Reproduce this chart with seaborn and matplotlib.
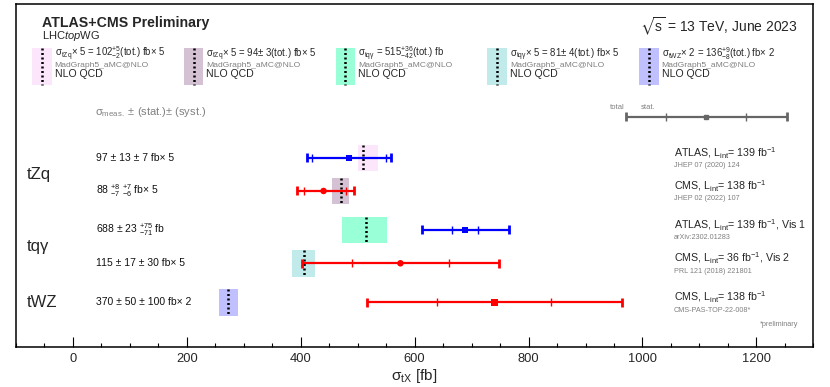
import matplotlib
matplotlib.use("Agg")
import matplotlib.pyplot as plt
from matplotlib.ticker import MultipleLocator
import numpy as np
import pandas as pd
import seaborn as sns

# measurements, top to bottom (values before scaling)
processes = ["tZq", "tZq", "tqγ", "tqγ", "tWZ"]
experiments = ["ATLAS", "CMS", "ATLAS", "CMS", "CMS"]
meas = [97, 88, 688, 115, 370]
stat_up = [13, 8, 23, 17, 50]
stat_dn = [13, 7, 23, 17, 50]
syst_up = [7, 7, 75, 30, 100]
syst_dn = [7, 6, 71, 30, 100]
scale = [5, 5, 1, 5, 2]

# NLO QCD predictions (MadGraph5_aMC@NLO)
theo = [102, 94, 515, 81, 136]
theo_up = [5, 3, 36, 4, 9]
theo_dn = [2, 3, 42, 4, 8]
theo_colors = ["#fbe6fb", "#d4c2d4", "#99ffd6", "#c1eaea", "#c0c0ff"]

lumi = ["139", "138", "139", "36", "138"]
extra = ["", "", ", Vis 1", ", Vis 2", ""]
refs = ["JHEP 07 (2020) 124", "JHEP 02 (2022) 107", "arXiv:2302.01283",
        "PRL 121 (2018) 221801", "CMS-PAS-TOP-22-008*"]

# layout (y in pixels from top, matching the axes)
row_y = [158, 191, 230, 263.3, 302.3]
markers = ["s", "o", "s", "o", "s"]
exp_colors = {"ATLAS": "#0000ff", "CMS": "#ff0000"}


def px(p):
    # pixel column -> data x
    return (p - 73.3) / 0.5685


df = pd.DataFrame({
    "process": processes, "experiment": experiments, "meas": meas,
    "stat_up": stat_up, "stat_dn": stat_dn, "syst_up": syst_up,
    "syst_dn": syst_dn, "scale": scale, "theo": theo, "theo_up": theo_up,
    "theo_dn": theo_dn, "y": row_y, "marker": markers,
})
df["x"] = df["meas"] * df["scale"]
df["tot_up"] = np.hypot(df["stat_up"], df["syst_up"]) * df["scale"]
df["tot_dn"] = np.hypot(df["stat_dn"], df["syst_dn"]) * df["scale"]

sns.set_theme(style="ticks")
plt.rcParams["font.family"] = ["Liberation Sans", "DejaVu Sans"]
plt.rcParams["mathtext.fontset"] = "custom"
plt.rcParams["mathtext.rm"] = "Liberation Sans"
plt.rcParams["mathtext.it"] = "Liberation Sans:italic"
plt.rcParams["mathtext.bf"] = "Liberation Sans:bold"
plt.rcParams["mathtext.sf"] = "Liberation Sans"
plt.rcParams["mathtext.fallback"] = "stixsans"

fig = plt.figure(figsize=(8.3, 3.87), dpi=100)
ax = fig.add_axes([0.0193, 0.1034, 0.9606, 0.8863])
ax.set_xlim(-100, 1300)
ax.set_ylim(347, 4)

gray = "#808080"
dots = (0, (0.8, 1.0))

# theory bands
for i, r in df.iterrows():
    lo = (r["theo"] - r["theo_dn"]) * r["scale"]
    hi = (r["theo"] + r["theo_up"]) * r["scale"]
    ax.barh(r["y"], hi - lo, left=lo, height=26.5, color=theo_colors[i],
            linewidth=0, zorder=1)
    ax.vlines(r["theo"] * r["scale"], r["y"] - 13, r["y"] + 13, color="black",
              linestyles=dots, linewidth=1.8, zorder=2)

# error bars: total with thick caps, stat with thin ticks
for i, r in df.iterrows():
    c = exp_colors[r["experiment"]]
    s_lo = r["x"] - r["stat_dn"] * r["scale"]
    s_hi = r["x"] + r["stat_up"] * r["scale"]
    t_lo = r["x"] - r["tot_dn"]
    t_hi = r["x"] + r["tot_up"]
    ax.hlines(r["y"], t_lo, t_hi, color=c, linewidth=1.6, zorder=3)
    ax.vlines([t_lo, t_hi], r["y"] - 4.5, r["y"] + 4.5, color=c, linewidth=2.0, zorder=3)
    ax.vlines([s_lo, s_hi], r["y"] - 4, r["y"] + 4, color=c, linewidth=1.0, zorder=3)

sns.scatterplot(data=df, x="x", y="y", hue="experiment", style="marker",
                palette=exp_colors, markers={"s": "s", "o": "o"}, s=22,
                edgecolor="none", legend=False, ax=ax, zorder=4)


def pm(up, dn):
    if up == dn:
        return f"± {up}"
    return f"${{}}^{{+{up}}}_{{-{dn}}}$"


def times(k):
    return "" if k == 1 else f"× {k}"


# left labels with numbers
for i, r in df.iterrows():
    txt = f"{r['meas']} {pm(r['stat_up'], r['stat_dn'])} {pm(r['syst_up'], r['syst_dn'])} fb{times(r['scale'])}"
    ax.text(px(96), r["y"], txt, fontsize=7.5, va="center", ha="left", color="#111111")

# process labels
for name in ["tZq", "tqγ", "tWZ"]:
    ys = df.loc[df["process"] == name, "y"]
    ax.text(px(27), ys.mean(), name, fontsize=12, va="center", ha="left")

# right labels
for i, r in df.iterrows():
    ax.text(px(673), r["y"] - 4.5,
            rf"{r['experiment']}, L$_{{\mathrm{{int}}}}$= {lumi[i]} fb$^{{\mathrm{{-1}}}}$" + extra[i],
            fontsize=7.7, va="center", ha="left")
    ax.text(px(673), r["y"] + 8, refs[i], fontsize=5.2, va="center", ha="left", color=gray)
ax.text(px(797), 325, "*preliminary", fontsize=5.2, va="center", ha="right", color=gray)

# theory legend at top
for k in range(5):
    left = 32.5 + 151.5 * k
    lo, hi = px(left), px(left + 19.5)
    ax.barh(66.5, hi - lo, left=lo, height=37, color=theo_colors[k], linewidth=0, zorder=1)
    ax.vlines((lo + hi) / 2, 48, 85, color="black", linestyles=dots,
              linewidth=1.8, zorder=2)
    sc = "" if scale[k] == 1 else f"× {scale[k]}"
    if theo_up[k] == theo_dn[k]:
        val = f"{theo[k]}± {theo_up[k]}"
    else:
        val = f"{theo[k]}$^{{+{theo_up[k]}}}_{{-{theo_dn[k]}}}$"
    line1 = rf"σ$_{{\mathrm{{{processes[k]}}}}}$" + (f"{sc} = " if sc else " = ") + val + "(tot.) fb" + sc
    tx = px(left + 22.5)
    ax.text(tx, 57.5, line1, fontsize=6.9, va="baseline", ha="left")
    ax.text(tx, 67, "MadGraph5_aMC@NLO", fontsize=6.1, va="baseline", ha="left", color=gray)
    ax.text(tx, 76.8, "NLO QCD", fontsize=7.6, va="baseline", ha="left")

# headers
ax.text(px(42), 27.5, "ATLAS+CMS Preliminary", fontsize=10.2, fontweight="bold",
        va="baseline", ha="left")
ax.text(px(42), 39, r"LHC$\mathit{top}$WG", fontsize=8, va="baseline", ha="left")
ax.text(px(797), 27, r"$\sqrt{\mathrm{s}}$ = 13 TeV, June 2023", fontsize=10,
        va="center", ha="right")

# stat/total key
key_c, key_stat, key_tot, key_y = 1112, 70, 141, 117
kc = "#666666"
ax.hlines(key_y, key_c - key_tot, key_c + key_tot, color=kc, linewidth=1.6)
ax.vlines([key_c - key_tot, key_c + key_tot], key_y - 4.5, key_y + 4.5, color=kc, linewidth=2.0)
ax.vlines([key_c - key_stat, key_c + key_stat], key_y - 4, key_y + 4, color=kc, linewidth=1.0)
ax.plot([key_c], [key_y], marker="s", ms=3, color=kc)
ax.text(key_c - key_tot - 2, 108, "total", fontsize=5.5, ha="right", va="center", color=gray)
ax.text(key_c - key_stat - 45, 108, "stat.", fontsize=5.5, ha="left", va="center", color=gray)
ax.text(px(95), 112, r"σ$_{\mathrm{meas.}}$ ± (stat.)± (syst.)", fontsize=8,
        va="center", ha="left", color=gray)

# axes styling
ax.set_yticks([])
ax.xaxis.set_major_locator(MultipleLocator(200))
ax.xaxis.set_minor_locator(MultipleLocator(50))
ax.tick_params(axis="x", which="major", direction="in", length=7.2, width=0.8,
               color="black", labelsize=9.3, pad=4)
ax.tick_params(axis="x", which="minor", direction="in", length=3, width=0.8, color="black")
for sp in ax.spines.values():
    sp.set_color("black")
    sp.set_linewidth(1.1)
ax.set_xlabel(r"σ$_{\mathrm{tX}}$ [fb]", fontsize=11, labelpad=2)
ax.set_ylabel("")

fig.savefig("out.png", dpi=100)
